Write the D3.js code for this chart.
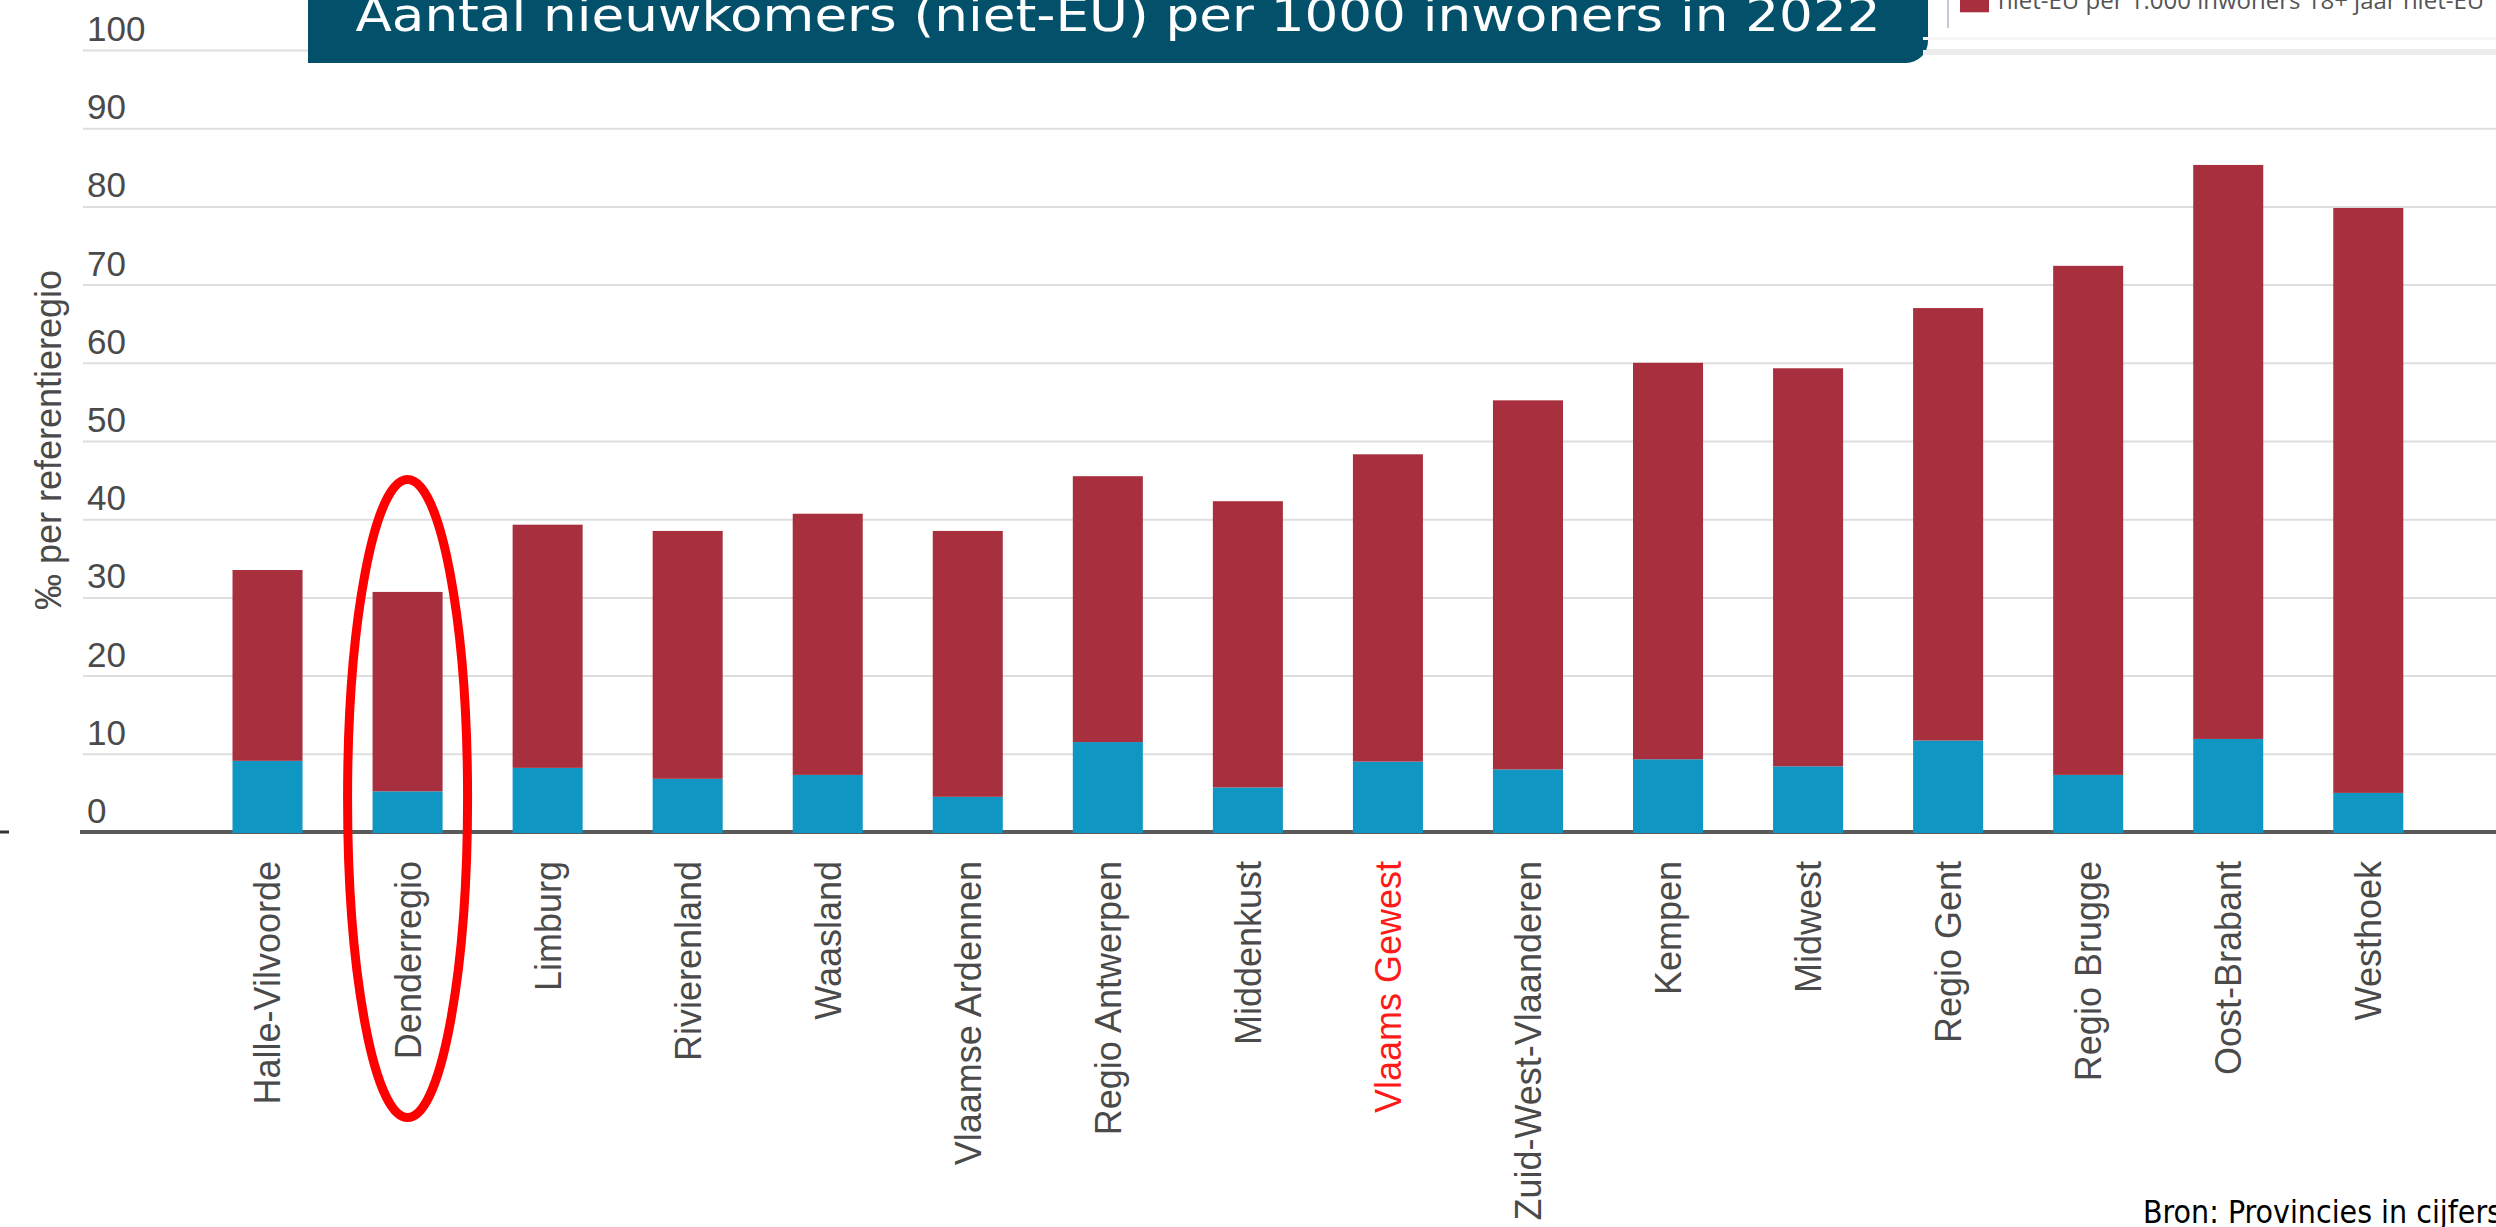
<!DOCTYPE html>
<html>
<head>
<meta charset="utf-8">
<script src="https://cdn.jsdelivr.net/npm/d3@7"></script>
<style>
  html, body { margin: 0; padding: 0; background: #ffffff; overflow: hidden; }
  svg { display: block; }
</style>
</head>
<body>
<svg id="chart" width="2496" height="1227"></svg>
<script>
// ---- data ----
const categories = ["Halle-Vilvoorde", "Denderregio", "Limburg", "Rivierenland", "Waasland",
  "Vlaamse Ardennen", "Regio Antwerpen", "Middenkust", "Vlaams Gewest", "Zuid-West-Vlaanderen",
  "Kempen", "Midwest", "Regio Gent", "Regio Brugge", "Oost-Brabant", "Westhoek"];
// lower (blue) segment
const blueVals = [9.1, 5.2, 8.2, 6.8, 7.3, 4.5, 11.5, 5.7, 9.0, 8.0, 9.3, 8.4, 11.7, 7.3, 11.9, 5.0];
// upper (red) segment
const redVals = [24.4, 25.5, 31.1, 31.7, 33.4, 34.0, 34.0, 36.6, 39.3, 47.2, 50.7, 50.9, 55.3, 65.1, 73.4, 74.8];
const yTicks = [0, 10, 20, 30, 40, 50, 60, 70, 80, 90, 100];
const highlighted = "Vlaams Gewest";
const circled = "Denderregio";
const titleText = "Aantal nieuwkomers (niet-EU) per 1000 inwoners in 2022";
const legendText = "niet-EU per 1.000 inwoners 18+ jaar niet-EU";
const yTitle = "‰ per referentieregio";
const sourceText = "Bron: Provincies in cijfers";

// ---- setup ----
const W = 2496, H = 1227;
const svg = d3.select("#chart");
const colors = { blue: "#0f96c3", red: "#a82f3d" };

const y = d3.scaleLinear().domain([0, 100]).range([832, 50]);
const x = d3.scaleBand().domain(categories).range([197.5, 2438.3]).paddingInner(0.5).paddingOuter(0.25);

const rows = categories.map((c, i) => ({ cat: c, blue: blueVals[i], red: redVals[i] }));
const stacked = d3.stack().keys(["blue", "red"])(rows);

// gridlines + y tick labels via axis
const gridLeft = 83;
const yAxis = d3.axisRight(y).tickValues(yTicks).tickSize(W - gridLeft).tickFormat(d3.format("d"));
const gy = svg.append("g").attr("transform", `translate(${gridLeft},0)`).call(yAxis);
gy.select(".domain").remove();
gy.selectAll(".tick line")
  .attr("stroke", d => d === 0 ? "none" : "#dedede")
  .attr("stroke-width", 2);
gy.selectAll(".tick text")
  .attr("x", 4)
  .attr("dy", null)
  .attr("y", -22)
  .attr("dominant-baseline", "central")
  .attr("text-anchor", "start")
  .attr("fill", "#4a4a4a")
  .style("font-family", "'Liberation Sans', Arial, sans-serif")
  .style("font-size", "35px");

// baseline
svg.append("line")
  .attr("x1", 80).attr("x2", W)
  .attr("y1", y(0)).attr("y2", y(0))
  .attr("stroke", "#5a5a5a").attr("stroke-width", 4);
svg.append("line")
  .attr("x1", 0).attr("x2", 9)
  .attr("y1", y(0)).attr("y2", y(0))
  .attr("stroke", "#333").attr("stroke-width", 3);

// bars
svg.append("g").selectAll("g")
  .data(stacked)
  .join("g")
  .attr("fill", d => colors[d.key])
  .selectAll("rect")
  .data(d => d)
  .join("rect")
  .attr("x", d => x(d.data.cat))
  .attr("width", x.bandwidth())
  .attr("y", d => y(d[1]))
  .attr("height", d => y(d[0]) - y(d[1]) + (d[0] === 0 ? 1 : 0));

// x labels
const xAxis = d3.axisBottom(x).tickSize(0);
const gx = svg.append("g").attr("transform", `translate(0,861)`).call(xAxis);
gx.select(".domain").remove();
gx.selectAll(".tick text")
  .attr("y", 0)
  .attr("x", 0)
  .attr("dy", "0.36em")
  .attr("transform", "rotate(-90)")
  .attr("text-anchor", "end")
  .attr("fill", d => d === highlighted ? "#ff1a1a" : "#4a4a4a")
  .style("font-family", "'Liberation Sans', Arial, sans-serif")
  .style("font-size", "36px");

// y title
svg.append("text")
  .attr("transform", `translate(61,440) rotate(-90)`)
  .attr("text-anchor", "middle")
  .attr("fill", "#4a4a4a")
  .style("font-family", "'Liberation Sans', Arial, sans-serif")
  .style("font-size", "36px")
  .text(yTitle);

// title box
svg.append("path")
  .attr("d", "M308,-5 H1928 V41 A22,22 0 0 1 1906,63 H308 Z")
  .attr("fill", "#03506a");
svg.append("text")
  .attr("x", 355.5).attr("y", 31)
  .attr("fill", "#ffffff")
  .attr("textLength", 1525)
  .attr("lengthAdjust", "spacingAndGlyphs")
  .style("font-family", "'DejaVu Sans Condensed', 'DejaVu Sans', sans-serif")
  .style("font-size", "46px")
  .text(titleText);

// legend (partially visible)
svg.append("rect").attr("x", 1923).attr("y", 50).attr("width", W - 1923).attr("height", 5).attr("fill", "#ececec");
svg.append("rect").attr("x", 1923).attr("y", 37).attr("width", W - 1923).attr("height", 3).attr("fill", "#f6f6f6");
svg.append("line").attr("x1", 1948).attr("x2", 1948).attr("y1", 0).attr("y2", 28)
  .attr("stroke", "#c8c8d8").attr("stroke-width", 2);
svg.append("rect").attr("x", 1960).attr("y", -6).attr("width", 29).attr("height", 18.3).attr("fill", colors.red);
svg.append("text")
  .attr("x", 1998).attr("y", 8.5)
  .attr("fill", "#555")
  .style("font-family", "'Open Sans', 'Liberation Sans', sans-serif")
  .style("font-size", "24px")
  .text(legendText);

// highlight ellipse
svg.append("ellipse")
  .attr("cx", x(circled) + x.bandwidth() / 2)
  .attr("cy", 798.5)
  .attr("rx", 60)
  .attr("ry", 319)
  .attr("fill", "none")
  .attr("stroke", "#ff0000")
  .attr("stroke-width", 9);

// source
svg.append("text")
  .attr("x", 2143).attr("y", 1223)
  .attr("fill", "#000")
  .attr("textLength", 359)
  .attr("lengthAdjust", "spacingAndGlyphs")
  .style("font-family", "'DejaVu Sans Condensed', 'DejaVu Sans', sans-serif")
  .style("font-size", "32px")
  .text(sourceText);
</script>
</body>
</html>
